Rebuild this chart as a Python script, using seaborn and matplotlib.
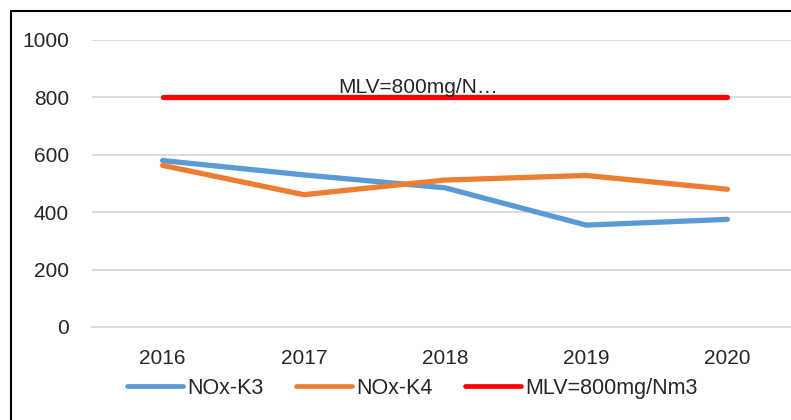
import pandas as pd
import matplotlib.pyplot as plt
import seaborn as sns
from matplotlib.patches import Rectangle

years = ['2016', '2017', '2018', '2019', '2020']
nox_k3 = [580, 530, 485, 355, 375]
nox_k4 = [563, 461, 512, 528, 480]
mlv = [800, 800, 800, 800, 800]
series_names = ['NOx-K3', 'NOx-K4', 'MLV=800mg/Nm3']
colors = ['#5B9BD5', '#ED7D31', '#FF0000']
yticks = [0, 200, 400, 600, 800, 1000]

df = pd.DataFrame({
    'year': years * 3,
    'value': nox_k3 + nox_k4 + mlv,
    'series': [s for s in series_names for _ in years],
})

sns.set_style('white')
plt.rcParams['font.family'] = ['Liberation Sans', 'DejaVu Sans']

fig = plt.figure(figsize=(7.91, 4.2), dpi=100)
ax = fig.add_axes([92 / 791, 93 / 420, 706 / 791, 287 / 420])

sns.lineplot(data=df, x='year', y='value', hue='series', palette=colors,
             linewidth=3.8, ax=ax, legend=False, sort=False)
for line in ax.lines:
    line.set_solid_capstyle('round')

ax.set_xlim(-0.5, 4.5)
ax.set_ylim(0, 1000)
ax.set_yticks(yticks)
ax.yaxis.grid(True, color='#D9D9D9', linewidth=1.3)
ax.set_axisbelow(True)
for s in ax.spines.values():
    s.set_visible(False)
ax.spines['bottom'].set_visible(True)
ax.spines['bottom'].set_color('#D9D9D9')
ax.spines['bottom'].set_linewidth(1.3)
ax.tick_params(axis='y', length=0, pad=16.5, labelsize=15)
ax.tick_params(axis='x', length=0, pad=15.5, labelsize=15)
ax.set_xlabel('')
ax.set_ylabel('')

# data label on the limit line
ax.annotate('MLV=800mg/N…', xy=(1.81, 800), xytext=(0, 3.5), textcoords='offset points',
            ha='center', va='baseline', fontsize=15)

handles = [plt.Line2D([], [], color=c, linewidth=3.4, solid_capstyle='round') for c in colors]
fig.legend(handles, series_names, loc='center', bbox_to_anchor=(0.521, 0.076),
           ncol=3, frameon=False, fontsize=15.5, handlelength=2.6,
           handletextpad=0.2, columnspacing=1.5)

fig.patches.append(Rectangle((11 / 791, -0.1), 1.2, 1 - 11 / 420 + 0.1,
                             transform=fig.transFigure, fill=False,
                             edgecolor='black', linewidth=1.5))

fig.savefig('out.png', dpi=100)
